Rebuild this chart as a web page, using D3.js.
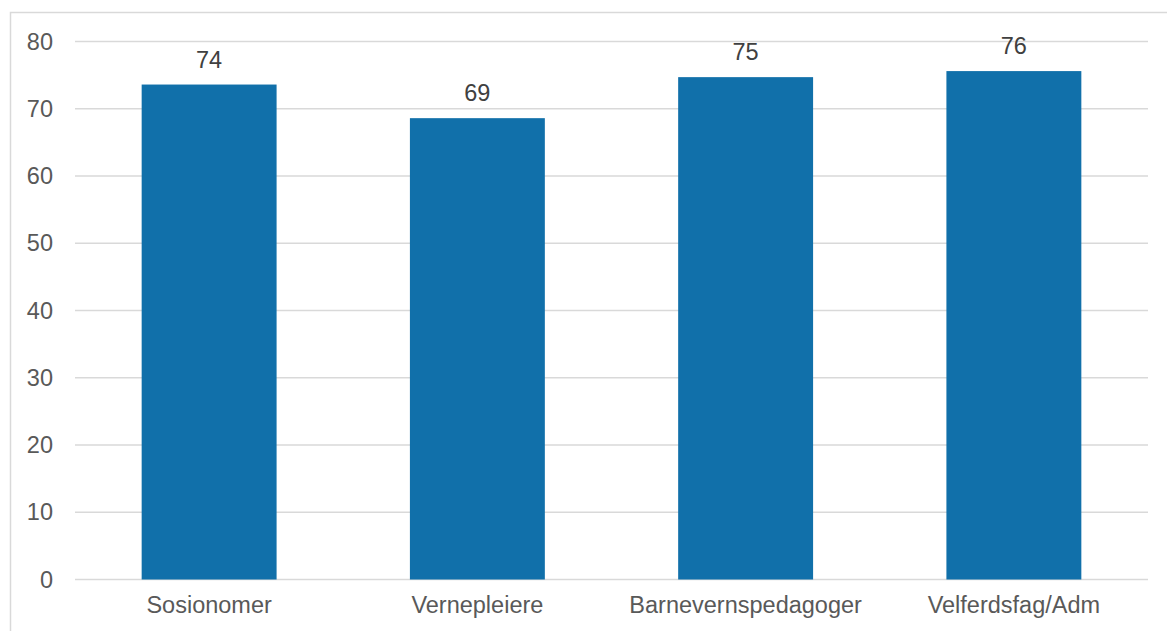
<!DOCTYPE html>
<html>
<head>
<meta charset="utf-8">
<script src="https://cdn.jsdelivr.net/npm/d3@7"></script>
<style>
  html, body { margin: 0; padding: 0; background: #fff; }
  svg { display: block; font-family: "Liberation Sans", Arial, sans-serif; }
</style>
</head>
<body>
<svg id="chart" width="1167" height="631"></svg>
<script>
// Categories and values
const categories = ["Sosionomer", "Vernepleiere", "Barnevernspedagoger", "Velferdsfag/Adm"];
const values = [73.6, 68.6, 74.7, 75.6];
const yTicks = [0, 10, 20, 30, 40, 50, 60, 70, 80];

const W = 1167, H = 631;
const margin = { left: 75, right: 19, top: 41.5, bottom: 51.5 };

const svg = d3.select("#chart");

// Outer frame
svg.append("rect")
  .attr("x", 10.5).attr("y", 12.5)
  .attr("width", W).attr("height", H)
  .attr("fill", "none")
  .attr("stroke", "#d9d9d9")
  .attr("stroke-width", 1.5);

const x = d3.scaleBand()
  .domain(categories)
  .range([margin.left, W - margin.right])
  .paddingInner(0.497)
  .paddingOuter(0.2485);

const y = d3.scaleLinear()
  .domain([0, 80])
  .range([H - margin.bottom, margin.top]);

// Gridlines
svg.append("g")
  .selectAll("line")
  .data(yTicks)
  .join("line")
  .attr("x1", margin.left)
  .attr("x2", W - margin.right)
  .attr("y1", d => y(d))
  .attr("y2", d => y(d))
  .attr("stroke", "#d9d9d9")
  .attr("stroke-width", 1.5);

// Y axis labels
const yAxis = d3.axisLeft(y).tickValues(yTicks).tickSize(0).tickPadding(0);
const gy = svg.append("g")
  .attr("transform", `translate(53,0)`)
  .call(yAxis);
gy.select(".domain").remove();
gy.selectAll("text")
  .attr("fill", "#595959")
  .attr("font-size", "23.5px")
  .attr("font-family", "Liberation Sans, Arial, sans-serif");

// Bars
svg.append("g")
  .selectAll("rect")
  .data(values)
  .join("rect")
  .attr("x", (d, i) => x(categories[i]))
  .attr("y", d => y(d))
  .attr("width", x.bandwidth())
  .attr("height", d => y(0) - y(d))
  .attr("fill", "#1170aa");

// Value labels
const fmt = d3.format(".0f");
svg.append("g")
  .selectAll("text")
  .data(values)
  .join("text")
  .attr("x", (d, i) => x(categories[i]) + x.bandwidth() / 2)
  .attr("y", d => y(d) - 17)
  .attr("text-anchor", "middle")
  .attr("fill", "#404040")
  .attr("font-size", "23.5px")
  .text(d => fmt(d));

// X axis labels
const xAxis = d3.axisBottom(x).tickSize(0).tickPadding(0);
const gx = svg.append("g")
  .attr("transform", `translate(0,${y(0) + 17})`)
  .call(xAxis);
gx.select(".domain").remove();
gx.selectAll("text")
  .attr("fill", "#595959")
  .attr("font-size", "23.5px")
  .attr("font-family", "Liberation Sans, Arial, sans-serif");
</script>
</body>
</html>
